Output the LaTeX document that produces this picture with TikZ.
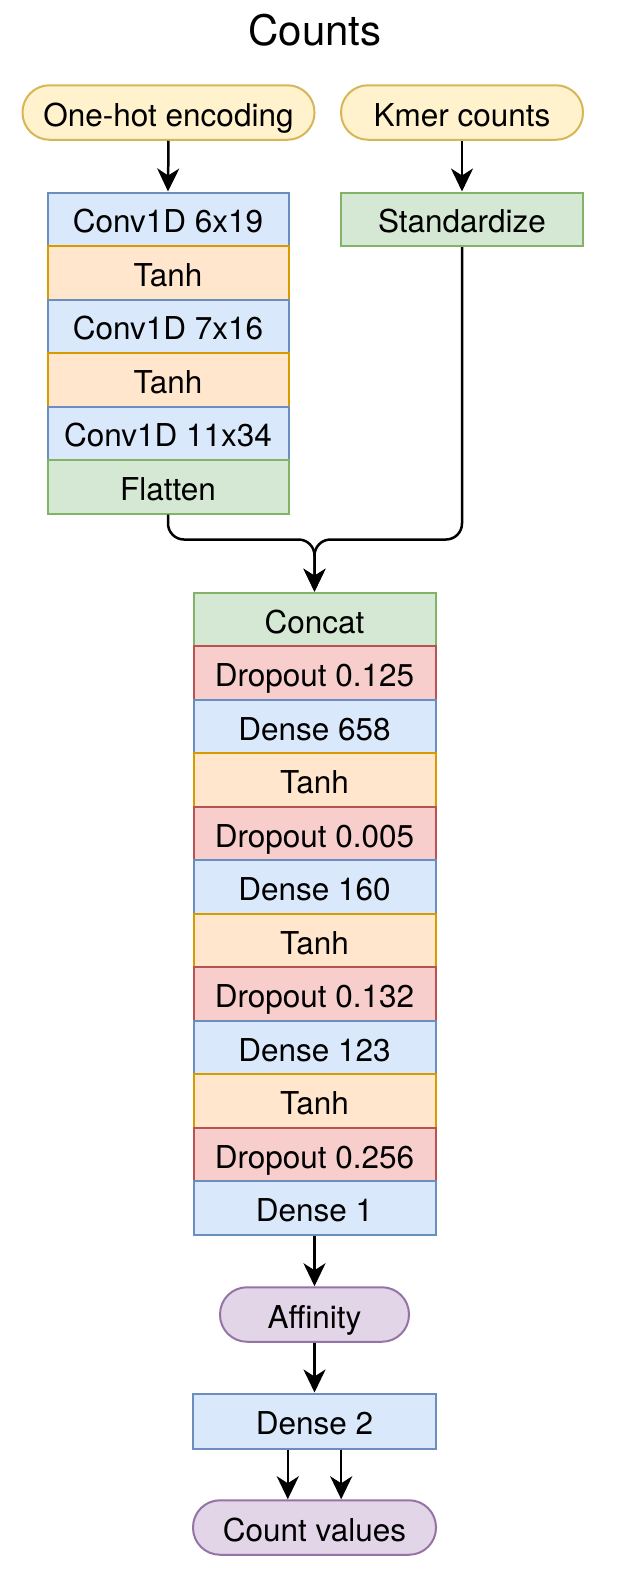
\documentclass[tikz,border=0pt]{standalone}
\usepackage{fontspec}
\setmainfont{TeX Gyre Heros}
\usetikzlibrary{arrows.meta}
\definecolor{bluefill}{HTML}{DAE8FC}\definecolor{bluedraw}{HTML}{6C8EBF}
\definecolor{orangefill}{HTML}{FFE6CC}\definecolor{orangedraw}{HTML}{D79B00}
\definecolor{greenfill}{HTML}{D5E8D4}\definecolor{greendraw}{HTML}{82B366}
\definecolor{redfill}{HTML}{F8CECC}\definecolor{reddraw}{HTML}{B85450}
\definecolor{yellowfill}{HTML}{FFF2CC}\definecolor{yellowdraw}{HTML}{D6B656}
\definecolor{purplefill}{HTML}{E1D5E7}\definecolor{purpledraw}{HTML}{9673A6}
\begin{document}
\begin{tikzpicture}[x=1pt,y=-1pt,
  lyr/.style={rectangle, draw, line width=2pt, minimum width=241pt, minimum height=53.5pt,
    inner sep=0pt, font=\fontsize{31.5}{36}\selectfont, text height=27pt, text depth=0pt},
  pill/.style={lyr, rounded corners=27pt, minimum height=54.5pt},
  bluebox/.style={lyr, fill=bluefill, draw=bluedraw},
  orangebox/.style={lyr, fill=orangefill, draw=orangedraw},
  greenbox/.style={lyr, fill=greenfill, draw=greendraw},
  redbox/.style={lyr, fill=redfill, draw=reddraw},
  yellowpill/.style={pill, fill=yellowfill, draw=yellowdraw},
  purplepill/.style={pill, fill=purplefill, draw=purpledraw},
  conn/.style={line width=2.5pt, -{Stealth[length=23pt,width=22pt,inset=7pt]}}
]
\useasboundingbox (0,0) rectangle (629,1580);

\node[font=\fontsize{42}{48}\selectfont, inner sep=0pt] (title) at (315,30) {Counts};

\node[yellowpill, minimum width=292pt] (oh) at (168.5,112.5) {One-hot encoding};
\node[yellowpill, minimum width=242pt] (km) at (462,112.5) {Kmer counts};

\node[bluebox] (c1) at (168,219.25) {Conv1D 6x19};
\node[orangebox] (t1) at (168,272.75) {Tanh};
\node[bluebox] (c2) at (168,326.25) {Conv1D 7x16};
\node[orangebox] (t2) at (168,379.75) {Tanh};
\node[bluebox] (c3) at (168,433.25) {Conv1D 11x34};
\node[greenbox] (fl) at (168,486.75) {Flatten};

\node[greenbox, minimum width=242pt] (st) at (462,219.25) {Standardize};

\node[greenbox, minimum width=242pt] (cc) at (314.5,619.5) {Concat};
\node[redbox, minimum width=242pt] (d1) at (314.5,673) {Dropout 0.125};
\node[bluebox, minimum width=242pt] (n1) at (314.5,726.5) {Dense 658};
\node[orangebox, minimum width=242pt] (t3) at (314.5,780) {Tanh};
\node[redbox, minimum width=242pt] (d2) at (314.5,833.5) {Dropout 0.005};
\node[bluebox, minimum width=242pt] (n2) at (314.5,887) {Dense 160};
\node[orangebox, minimum width=242pt] (t4) at (314.5,940.5) {Tanh};
\node[redbox, minimum width=242pt] (d3) at (314.5,994) {Dropout 0.132};
\node[bluebox, minimum width=242pt] (n3) at (314.5,1047.5) {Dense 123};
\node[orangebox, minimum width=242pt] (t5) at (314.5,1101) {Tanh};
\node[redbox, minimum width=242pt] (d4) at (314.5,1154.5) {Dropout 0.256};
\node[bluebox, minimum width=242pt] (n4) at (314.5,1208) {Dense 1};

\node[purplepill, minimum width=189pt] (af) at (314.5,1314.5) {Affinity};
\node[bluebox, minimum width=243pt, minimum height=55pt] (dd) at (314.5,1421) {Dense 2};
\node[purplepill, minimum width=243pt] (cv) at (314.5,1527.5) {Count values};

\coordinate (m) at (314.5,539.5);

\draw[conn] (oh.south) -- (c1.north);
\draw[conn] (km.south) -- (st.north);
\draw[conn, rounded corners=16pt] (fl.south) |- (m) -- (cc.north);
\draw[conn, rounded corners=16pt] (st.south) |- (m) -- (cc.north);
\draw[conn] (n4.south) -- (af.north);
\draw[conn] (af.south) -- (dd.north);
\draw[conn] ([xshift=-26.7pt]dd.south) -- ([xshift=-26.7pt]cv.north);
\draw[conn] ([xshift=26.7pt]dd.south) -- ([xshift=26.7pt]cv.north);
\end{tikzpicture}
\end{document}
